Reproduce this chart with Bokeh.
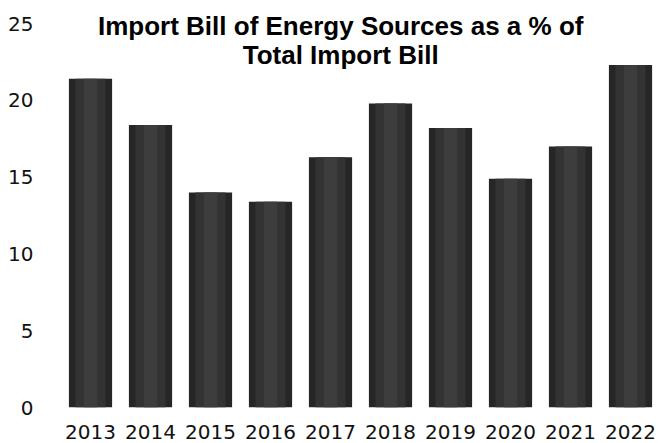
from bokeh.plotting import figure
from bokeh.models import FactorRange, Range1d, Label, ColumnDataSource
from bokeh.embed import file_html
from bokeh.resources import INLINE

years = ["2013", "2014", "2015", "2016", "2017", "2018", "2019", "2020", "2021", "2022"]
shares = [21.4, 18.4, 14.0, 13.4, 16.3, 19.8, 18.2, 14.9, 17.0, 22.3]
y_ticks = [0, 5, 10, 15, 20, 25]
title_lines = ["Import Bill of Energy Sources as a % of", "Total Import Bill"]

src = ColumnDataSource(dict(year=years, share=shares))

p = figure(
    width=660, height=443,
    x_range=FactorRange(factors=years),
    y_range=Range1d(0, 26.5),
    output_backend="svg", toolbar_location=None,
    min_border_left=60, min_border_right=0, min_border_top=0, min_border_bottom=36,
)
p.outline_line_color = None
p.xgrid.grid_line_color = None
p.ygrid.grid_line_color = None
p.background_fill_color = "white"
p.border_fill_color = "white"

# bars with a soft vertical shading
p.vbar(x="year", top="share", bottom=0, width=0.72, source=src, fill_color="#262626", line_color=None)
p.vbar(x="year", top="share", bottom=0, width=0.5, source=src, fill_color="#333333", line_color=None)
p.vbar(x="year", top="share", bottom=0, width=0.22, source=src, fill_color="#3d3d3d", line_color=None)

for ax in (p.xaxis[0], p.yaxis[0]):
    ax.axis_line_color = None
    ax.major_tick_line_color = None
    ax.minor_tick_line_color = None
    ax.major_label_text_font = "DejaVu Sans"
    ax.major_label_text_color = "#111111"

p.yaxis.ticker = y_ticks
p.yaxis.major_label_text_font_size = "20px"
p.yaxis.major_label_standoff = 21
p.xaxis.major_label_text_font_size = "20px"
p.xaxis.major_label_standoff = 11

ys = [24.85, 22.97]
for line, yy in zip(title_lines, ys):
    p.add_layout(Label(
        x=4.67, y=yy, text=line, text_align="center", text_baseline="alphabetic",
        text_font="Liberation Sans", text_font_style="bold", text_font_size="26px",
        text_color="#000000",
    ))

open("out.html", "w").write(file_html(p, INLINE))
